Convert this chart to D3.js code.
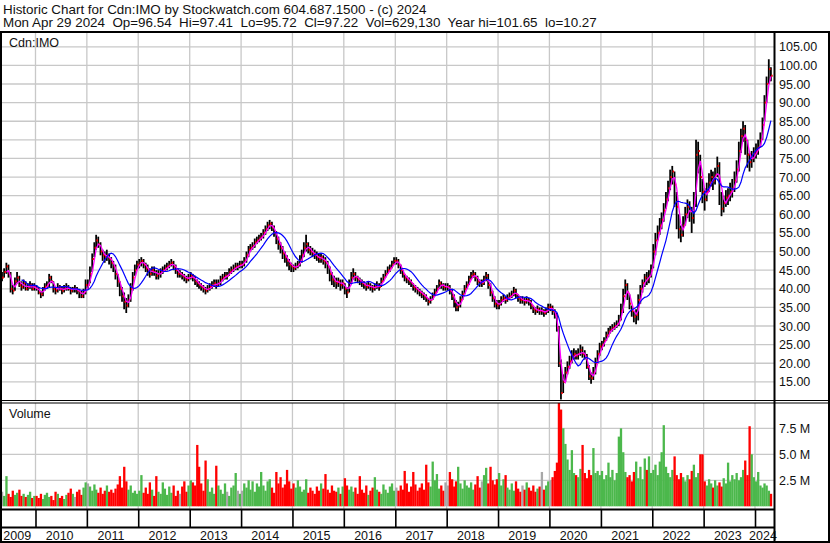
<!DOCTYPE html>
<html>
<head>
<meta charset="utf-8">
<script src="https://cdn.jsdelivr.net/npm/d3@7"></script>
<style>
body { margin: 0; background: #fff; }
svg text { font-family: Arial, "Liberation Sans", sans-serif; fill: #111; }
</style>
</head>
<body>
<script>
// half-month bars, May 2009 .. Apr 2024
var closes = [
  43, 44.5, 46, 44, 40, 39.5, 42, 43, 41, 40.5, 41.5, 40, 40.5, 41, 40, 40.5,                               // 2009 May-Dec
  40, 39, 38.5, 40, 40.5, 41, 43, 42, 40, 39.5, 40.5, 40, 39.5, 40, 40.5, 40, 39.5, 40, 40, 39.5, 39, 38, 39, 41, // 2010
  41, 44, 48, 51, 53, 52, 50, 49, 48.5, 49, 48, 47, 46, 44, 42, 40, 38, 36.5, 35.5, 37, 40, 43, 45, 46.5,     // 2011
  47, 47.5, 46.5, 45.5, 45, 44, 45, 44.5, 43.5, 44, 44.5, 45, 45.5, 46, 46.5, 47, 46, 45, 44, 44, 43.5, 43, 42.5, 43, // 2012
  43.5, 43, 42, 41.5, 41, 40.5, 40, 39.5, 40, 40.5, 41, 41.5, 41, 41.5, 42.5, 43, 43.5, 43.5, 44.5, 45, 45.5, 46, 46, 46.5, // 2013
  46.5, 47.5, 49, 50.5, 51, 51.5, 52.5, 53, 53.5, 54, 55, 56, 57, 57.5, 56.5, 55, 53.5, 52, 51, 49.5, 48.5, 47.5, 46.5, 46, // 2014
  45.5, 46, 46.5, 47.5, 49, 51, 52, 50.5, 50, 49.5, 49, 48.5, 48, 48.5, 47.5, 47, 46, 44, 42.5, 42, 41.5, 42, 41, 41.5, // 2015
  40, 39, 41.5, 43, 44, 43, 42.5, 42, 41.5, 41, 40.5, 41, 40.5, 40, 40.5, 41, 40.5, 42, 43, 44, 45, 45.5, 46.5, 47.5, // 2016
  47.5, 46.5, 45, 44, 43, 42.5, 42, 41.5, 40.5, 40, 39.5, 39, 38.5, 38, 37.5, 36.5, 37, 38, 39, 40, 41.5, 41, 40.5, 40.5, // 2017
  40.5, 39.5, 38, 36.5, 35, 35.5, 37, 38.5, 40, 41, 42.5, 43.5, 44, 43, 42, 41.5, 41.5, 42.5, 43.5, 41, 39, 37.5, 36, 35.5, // 2018
  36, 37, 37.5, 37, 37.5, 38, 38.5, 39.5, 38.5, 37.5, 37, 37, 36.5, 37, 36.5, 35.5, 34.5, 34, 34.5, 34, 34, 33.5, 34, 35, // 2019
  35, 34, 33, 29.5, 20, 12, 15, 17.5, 19, 20.5, 22, 22.5, 22, 22.5, 23.5, 22.5, 22, 19, 16.5, 16, 17.5, 20, 22.5, 24.5, // 2020
  25, 26, 27.5, 28.5, 29, 29.5, 30, 30.5, 31.5, 34, 38, 41, 39, 36, 34, 32.5, 33, 37, 40, 41.5, 43, 42.5, 43.5, 45,     // 2021
  50, 53, 55, 57, 58.5, 61, 64, 67, 70, 71.5, 68, 62, 56, 54.5, 57, 60, 62, 61, 59, 63, 76, 77, 70, 66,                 // 2022
  64, 66, 68.5, 70, 69, 70.5, 73, 68, 61.5, 63, 64.5, 65, 66, 67, 69, 72, 77, 81, 83, 80, 76, 74, 75, 76.5,             // 2023
  77, 78, 80, 84, 90, 95, 99, 97.22                                                                                     // 2024 Jan-Apr
];

var highs = [
  44.5, 45.5, 47, 46.5, 44.5, 41, 43, 44.5, 43.5, 42, 42.5, 42, 41.5, 42, 41.5, 41.5,
  41, 40.5, 39.5, 40.5, 41.5, 42, 44, 43.5, 42, 40.5, 41.5, 41, 40.5, 41, 41.5, 41, 40.5, 40.5, 41, 40.5, 40, 39.5, 40, 42.5,
  42.5, 46, 49.5, 52.5, 54.5, 54, 52.5, 50.5, 50, 50.5, 49.5, 48.5, 47.5, 46.5, 44, 42, 40.5, 39, 37.5, 38.5, 41.5, 44.5, 46.5, 47.5,
  48, 48.5, 48, 47, 46.5, 45.5, 46, 46, 45, 45, 45.5, 46, 46.5, 47, 47.5, 48, 47.5, 46.5, 45.5, 45, 44.5, 44, 43.5, 44,
  44.5, 44, 43.5, 42.5, 42, 41.5, 41, 40.5, 41, 41.5, 42, 42.5, 42.5, 42.5, 43.5, 44, 44.5, 44.5, 45.5, 46, 46.5, 47, 47, 47.5,
  47.5, 48.5, 50, 51.5, 52, 52.5, 53.5, 54, 54.5, 55, 56, 57, 58, 58.5, 58, 57, 55.5, 54, 52.5, 51.5, 50, 49, 48, 47,
  46.5, 47, 47.5, 49, 50.5, 52.5, 54.5, 52.5, 51.5, 51, 50.5, 50, 49.5, 49.5, 49, 48.5, 47.5, 46, 44.5, 43.5, 43, 43, 42.5, 42.5,
  41.5, 40.5, 42.5, 44.5, 45.5, 44.5, 43.5, 43, 42.5, 42, 41.5, 42, 41.5, 41, 41.5, 42, 41.5, 43, 44, 45, 46, 46.5, 47.5, 48.5,
  48.5, 48, 46.5, 45, 44, 43.5, 43, 42.5, 41.5, 41, 40.5, 40, 39.5, 39, 38.5, 37.5, 38, 39, 40, 41, 42.5, 42, 41.5, 41.5,
  41.5, 41, 40, 38.5, 37, 36.5, 38, 39.5, 41, 42, 43.5, 44.5, 45, 44.5, 43.5, 42.5, 42.5, 43.5, 44.5, 44, 41.5, 39.5, 38, 37,
  37, 38, 38.5, 38, 38.5, 39, 39.5, 40.5, 40, 38.5, 38, 38, 37.5, 38, 37.5, 37, 35.5, 35, 35.5, 35, 35, 34.5, 35, 36,
  36, 35.5, 34.5, 33.5, 30, 21, 17, 19, 20.5, 22, 23.5, 24, 23.5, 24, 25, 24.5, 23.5, 22.5, 19.5, 17.5, 19, 21.5, 23.5, 25.5,
  26, 27, 28.5, 29.5, 30, 30.5, 31, 31.5, 33, 36, 40, 42.5, 41.5, 38.5, 35.5, 34, 34.5, 38.5, 41, 42.5, 44, 44.5, 45, 46.5,
  52, 55, 57, 59, 60.5, 63, 66, 69, 72, 73, 71.5, 66, 60, 57, 59.5, 62, 64, 63.5, 62, 66, 80, 79.5, 76, 69.5,
  67, 68.5, 71, 72, 71.5, 72.5, 75.5, 74, 66, 65, 66.5, 67, 68.5, 69.5, 71.5, 74.5, 79.5, 83, 85, 84, 80, 76.5, 77, 78,
  79, 80, 82, 86, 92, 97, 101.65, 99.5
];

var lows = [
  42, 43, 44, 43, 39, 38.5, 39.5, 41.5, 40.5, 39.5, 40, 39.5, 39.5, 40, 39.5, 39.5,
  39.5, 38.5, 37.5, 38, 39.5, 40, 40.5, 41.5, 39, 38.5, 39, 39.5, 38.5, 39, 39.5, 39.5, 38.5, 39, 39, 38.5, 37.5, 37.5, 37.5, 38.5,
  40, 41.5, 44.5, 48.5, 50.5, 51, 49, 47.5, 47, 47.5, 46.5, 45.5, 44.5, 42.5, 40.5, 38, 36.5, 34.5, 33.5, 35, 36.5, 39.5, 43.5, 45,
  45.5, 46, 45.5, 44.5, 43.5, 43, 43.5, 43.5, 42.5, 42.5, 43, 44, 44.5, 45, 45.5, 46, 45, 44, 43, 43, 42.5, 42, 41.5, 42,
  42.5, 42, 41, 40.5, 40, 39.5, 39, 38.5, 39, 39.5, 40, 40.5, 40, 40.5, 41, 42, 42.5, 42.5, 43.5, 44, 44.5, 45, 45, 45.5,
  45.5, 46, 47, 48.5, 50, 50.5, 51, 52, 52.5, 53, 53.5, 54.5, 55.5, 56, 55.5, 54, 52, 50.5, 49.5, 48, 47, 46, 45, 44.5,
  44.5, 45, 45.5, 46, 47, 48.5, 50, 49.5, 49, 48.5, 48, 47.5, 47, 47, 46.5, 45.5, 44, 42, 41, 40.5, 40, 40.5, 39.5, 40,
  38.5, 37.5, 39, 41.5, 42.5, 42, 41.5, 41, 40.5, 40, 39.5, 40, 39.5, 39, 39.5, 40, 39.5, 40.5, 42, 43, 44, 44.5, 45.5, 46.5,
  46.5, 45.5, 44, 43, 42, 41.5, 41, 40.5, 39.5, 39, 38.5, 38, 37.5, 37, 36.5, 35.5, 36, 37, 38, 39, 40, 40, 39.5, 39.5,
  39.5, 38.5, 37, 35, 34, 34, 35, 37, 38.5, 40, 41, 42.5, 43, 42, 41, 40.5, 40.5, 41, 42, 40, 38, 36.5, 35, 34.5,
  34.5, 35.5, 36.5, 36, 36.5, 37, 37.5, 38, 37.5, 36.5, 36, 36, 35.5, 36, 35.5, 34.5, 33.5, 33, 33.5, 33, 33, 32.5, 33, 33.5,
  34, 33, 32, 28.5, 19, 10.27, 12, 15, 17, 18.5, 20, 21, 21, 21, 22, 21.5, 21, 18.5, 15.5, 14.5, 15.5, 17, 20, 22,
  23.5, 24.5, 26, 27, 28, 28.5, 29, 29.5, 30, 31.5, 33.5, 38.5, 37, 34.5, 32.5, 31, 30.5, 31.5, 36, 39, 40.5, 41, 41.5, 43,
  45.5, 49, 53, 54.5, 56, 58, 61.5, 63.5, 66.5, 68, 62, 56, 53.5, 52.5, 54, 57, 59, 58, 55, 57.5, 62, 71, 66, 63,
  61, 63.5, 66, 67.5, 66.5, 68, 70, 62.5, 59.5, 60.5, 62, 62.5, 63.5, 64.5, 66, 68.5, 71.5, 76.5, 79.5, 76, 72.5, 71.5, 72.5, 74,
  75, 76, 78, 80, 85, 90, 95, 95.72
];

// volume, millions
var volumes = [
  1.4, 1.0, 2.9, 1.2, 0.9, 1.5, 1.1, 1.3, 1.6, 1.0, 1.2, 0.9, 1.1, 1.4, 0.8, 1.0,
  1.0, 0.8, 1.2, 0.7, 1.1, 1.3, 0.9, 1.0, 0.6, 1.4, 1.2, 0.8, 1.0, 0.7, 1.1, 1.3, 1.7, 1.2, 0.9, 1.4, 1.6, 1.1, 1.8, 2.3,
  2.2, 1.9, 1.5, 2.1, 1.6, 1.3, 1.8, 1.2, 1.5, 2.0, 1.4, 1.6, 1.3, 1.7, 2.1, 2.9, 1.8, 3.8, 2.4, 1.6, 2.0, 1.3, 1.5, 1.2,
  1.5, 3.0, 1.3, 1.8, 1.2, 2.3, 1.6, 1.0, 2.9, 1.4, 1.2, 2.3, 1.7, 1.1, 1.9, 1.3, 2.0, 1.0, 1.5, 1.2, 1.9, 2.4, 1.4, 2.0,
  2.5, 2.3, 2.0, 5.9, 3.8, 2.2, 1.5, 4.4, 2.6, 1.4, 1.8, 1.2, 3.9, 2.0, 1.6, 1.2, 2.2, 1.4, 1.0, 1.8, 2.0, 3.2, 1.5, 1.2,
  1.5, 2.2, 1.8, 2.5, 1.6, 2.4, 1.4, 2.2, 1.9, 3.3, 2.0, 1.5, 2.4, 2.6, 1.8, 1.3, 3.3, 2.2, 2.8, 1.8, 2.1, 3.5, 2.4, 1.7,
  2.2, 1.8, 2.5, 1.9, 1.4, 1.6, 2.6, 1.3, 1.8, 1.5, 1.2, 1.9, 1.5, 2.2, 1.7, 3.1, 1.6, 1.3, 2.0, 1.5, 1.4, 1.8, 1.2, 1.9,
  2.7, 2.0, 1.6, 1.9, 1.4, 1.8, 1.2, 2.9, 1.6, 1.3, 2.0, 1.1, 1.5, 1.8, 2.8, 1.6, 1.4, 1.2, 2.1, 1.6, 1.3, 1.9, 2.2, 1.5,
  1.8, 1.5, 2.0, 1.6, 3.4, 2.2, 1.4, 1.9, 3.3, 2.1, 1.5, 1.8, 2.2, 1.6, 4.0, 2.3, 1.9, 4.3, 2.5, 3.1, 1.7, 2.0, 1.5, 2.3,
  2.0, 3.3, 2.6, 1.9, 2.4, 3.8, 2.2, 1.7, 2.5, 2.0, 1.8, 2.3, 1.6, 2.1, 2.9, 1.8, 2.4, 3.0, 3.7, 2.2, 3.8, 2.5, 2.1, 2.6,
  3.2, 2.0, 2.6, 3.0, 1.8, 1.6, 2.2, 1.5, 2.4, 1.7, 1.4, 2.0, 1.6, 2.3, 1.8, 1.5, 2.0, 1.4, 1.7, 1.9, 3.3, 1.6, 2.0, 2.4,
  2.5, 2.8, 3.4, 4.2, 10.4, 9.3, 7.5, 6.0, 4.5, 3.5, 5.4, 3.2, 3.0, 2.8, 3.6, 5.9, 3.2, 2.7, 3.5, 3.0, 5.6, 3.2, 3.4, 3.0,
  3.4, 2.6, 3.0, 4.2, 2.8, 3.5, 2.5, 3.2, 6.7, 7.5, 5.2, 3.3, 2.8, 3.0, 2.4, 3.3, 4.3, 2.7, 3.8, 2.6, 4.6, 3.5, 4.8, 3.2,
  3.5, 4.0, 3.0, 4.3, 5.2, 7.8, 3.8, 3.2, 2.8, 3.5, 4.8, 3.0, 2.6, 3.2, 2.8, 2.4, 3.0, 2.6, 3.4, 4.0, 2.8, 3.2, 5.0, 5.0,
  2.4, 2.0, 2.6, 2.2, 1.8, 2.5, 2.0, 2.3, 1.9, 2.7, 2.2, 4.2, 2.4, 3.0, 2.6, 3.2, 2.5, 2.8, 3.5, 4.4, 3.0, 7.7, 5.0, 2.8,
  2.4, 3.3, 2.0, 1.8, 2.2, 2.0, 1.5, 1.2
];

var priceTicks = [15, 20, 25, 30, 35, 40, 45, 50, 55, 60, 65, 70, 75, 80, 85, 90, 95, 100, 105];
var volumeTicks = [2.5, 5, 7.5];
var yearLabels = ["2009", "2010", "2011", "2012", "2013", "2014", "2015", "2016",
                  "2017", "2018", "2019", "2020", "2021", "2022", "2023", "2024"];
var headerLine1 = "Historic Chart for Cdn:IMO by Stockwatch.com 604.687.1500 - (c) 2024";
var headerLine2 = "Mon Apr 29 2024  Op=96.54  Hi=97.41  Lo=95.72  Cl=97.22  Vol=629,130  Year hi=101.65  lo=10.27";

// layout
var svgWidth = 830, svgHeight = 543;
var plotLeft = 2, plotRight = 774;
var priceTop = 33, priceBottom = 400;
var volTop = 403, volBottom = 509;

var gridColor = "#c8c8c8";

// two bars a month, centred on the 8th and 23rd
var months = d3.timeMonth.range(new Date(2009, 4, 1), new Date(2024, 4, 1));
var dates = [];
months.forEach(function(m) {
    dates.push(new Date(m.getFullYear(), m.getMonth(), 8));
    dates.push(new Date(m.getFullYear(), m.getMonth(), 23));
});
var bars = dates.map(function(d, i) {
    return { date: d, close: closes[i], high: highs[i], low: lows[i], vol: volumes[i],
             prev: i > 0 ? closes[i - 1] : closes[i] };
});

function movingAvg(n) {
    var out = [];
    for (var i = n - 1; i < closes.length; i++) {
        out.push({ date: dates[i], value: d3.mean(closes.slice(i - n + 1, i + 1)) });
    }
    return out;
}
var maShort = movingAvg(3);
var maLong = movingAvg(10);

var xScale = d3.scaleTime()
    .domain([new Date(2009, 4, 8), new Date(2024, 4, 15)])
    .range([plotLeft, plotRight]);
var yScale = d3.scaleLinear().domain([10.13, 108.7]).range([priceBottom, priceTop]);
var vScale = d3.scaleLinear().domain([0, 10]).range([506.3, 402.3]);

var yearStarts = d3.range(2010, 2025).map(function(y) { return new Date(y, 0, 1); });

var svg = d3.select("body").append("svg")
    .attr("width", svgWidth)
    .attr("height", svgHeight);

svg.append("rect").attr("width", svgWidth).attr("height", svgHeight).attr("fill", "#fff");

// header
svg.append("text").attr("x", 3).attr("y", 13.5).attr("font-size", "13.4px")
    .style("white-space", "pre").text(headerLine1);
svg.append("text").attr("x", 3).attr("y", 27).attr("font-size", "13.4px")
    .style("white-space", "pre").text(headerLine2);

// clip for the panels
svg.append("clipPath").attr("id", "priceClip").append("rect")
    .attr("x", plotLeft).attr("y", priceTop).attr("width", plotRight - plotLeft).attr("height", priceBottom - priceTop);
svg.append("clipPath").attr("id", "volClip").append("rect")
    .attr("x", plotLeft).attr("y", volTop).attr("width", plotRight - plotLeft).attr("height", volBottom - volTop);

// grid - price
var grid = svg.append("g").attr("stroke", gridColor).attr("stroke-width", 1.3);
grid.selectAll(".hp").data(priceTicks).enter().append("line")
    .attr("x1", plotLeft).attr("x2", plotRight)
    .attr("y1", d => yScale(d)).attr("y2", d => yScale(d));
grid.selectAll(".vp").data(yearStarts).enter().append("line")
    .attr("x1", d => xScale(d)).attr("x2", d => xScale(d))
    .attr("y1", priceTop).attr("y2", priceBottom);
// grid - volume
grid.selectAll(".hv").data(volumeTicks).enter().append("line")
    .attr("x1", plotLeft).attr("x2", plotRight)
    .attr("y1", d => vScale(d)).attr("y2", d => vScale(d));
grid.selectAll(".vv").data(yearStarts).enter().append("line")
    .attr("x1", d => xScale(d)).attr("x2", d => xScale(d))
    .attr("y1", volTop).attr("y2", volBottom);

// volume bars
var slot = xScale(dates[1]) - xScale(dates[0]);
svg.append("g").attr("clip-path", "url(#volClip)")
    .selectAll("rect").data(bars).enter().append("rect")
    .attr("x", d => xScale(d.date) - slot / 2)
    .attr("width", slot + 0.2)
    .attr("y", d => vScale(d.vol))
    .attr("height", d => vScale(0) - vScale(d.vol))
    .attr("fill", d => d.close > d.prev ? "#4cb84c" : (d.close < d.prev ? "#ff0000" : "#a8a8a8"));

// price bars
var priceG = svg.append("g").attr("clip-path", "url(#priceClip)");
priceG.selectAll(".bar").data(bars).enter().append("line")
    .attr("x1", d => xScale(d.date)).attr("x2", d => xScale(d.date))
    .attr("y1", d => yScale(d.high)).attr("y2", d => yScale(d.low))
    .attr("stroke", "#000").attr("stroke-width", 1.8);
priceG.selectAll(".tick").data(bars).enter().append("rect")
    .attr("x", d => xScale(d.date) + 0.3)
    .attr("y", d => yScale(d.close) - 1)
    .attr("width", 1.5).attr("height", 2)
    .attr("fill", "#ff0000");

var line = d3.line().x(d => xScale(d.date)).y(d => yScale(d.value));
priceG.append("path").datum(maShort).attr("d", line)
    .attr("fill", "none").attr("stroke", "#ff00ff").attr("stroke-width", 1.3);
priceG.append("path").datum(maLong).attr("d", line)
    .attr("fill", "none").attr("stroke", "#0000ff").attr("stroke-width", 1.2);

// right axes
var priceAxis = svg.append("g")
    .attr("transform", `translate(${plotRight}, 0)`)
    .call(d3.axisRight(yScale).tickValues(priceTicks).tickFormat(d3.format(".2f")).tickSize(0).tickPadding(5));
var volAxis = svg.append("g")
    .attr("transform", `translate(${plotRight}, 0)`)
    .call(d3.axisRight(vScale).tickValues(volumeTicks).tickFormat(d => d.toFixed(1) + " M").tickSize(0).tickPadding(5));
[priceAxis, volAxis].forEach(function(ax) {
    ax.select(".domain").remove();
    ax.selectAll("text").attr("font-size", "12.5px").attr("font-family", null).attr("fill", null);
});

// x axis: year boundary ticks and year labels
svg.append("g")
    .attr("transform", `translate(0, 510)`)
    .call(d3.axisBottom(xScale).tickValues(yearStarts).tickFormat("").tickSize(17))
    .call(g => g.select(".domain").remove())
    .selectAll("line").attr("stroke", "#000").attr("stroke-width", 1.6);

var yearMids = yearLabels.map(function(y) {
    var a = Math.max(plotLeft, xScale(new Date(+y, 0, 1)));
    var b = Math.min(plotRight, xScale(new Date(+y + 1, 0, 1)));
    return { label: y, x: (a + b) / 2 - 1.5 };
});
svg.selectAll(".yr").data(yearMids).enter().append("text")
    .attr("x", d => d.x).attr("y", 539.5)
    .attr("text-anchor", "middle").attr("font-size", "12.5px")
    .text(d => d.label);

// panel labels
svg.append("text").attr("x", 9).attr("y", 47).attr("font-size", "12.5px").text("Cdn:IMO");
svg.append("text").attr("x", 9).attr("y", 418).attr("font-size", "12.5px").text("Volume");

// frame lines
var frame = svg.append("g").attr("fill", "#000");
frame.append("rect").attr("x", 0).attr("y", 31).attr("width", svgWidth).attr("height", 2);
frame.append("rect").attr("x", 0).attr("y", 31).attr("width", 2).attr("height", svgHeight - 31);
frame.append("rect").attr("x", svgWidth - 2).attr("y", 31).attr("width", 2).attr("height", svgHeight - 31);
frame.append("rect").attr("x", 0).attr("y", svgHeight - 2).attr("width", svgWidth).attr("height", 2);
frame.append("rect").attr("x", plotRight - 0.5).attr("y", 31).attr("width", 2).attr("height", svgHeight - 31);
frame.append("rect").attr("x", 0).attr("y", 400).attr("width", svgWidth).attr("height", 1);
frame.append("rect").attr("x", 0).attr("y", 402.5).attr("width", svgWidth).attr("height", 1);
frame.append("rect").attr("x", 0).attr("y", 508.5).attr("width", plotRight).attr("height", 2);
frame.append("rect").attr("x", 0).attr("y", 526.5).attr("width", plotRight).attr("height", 2);
</script>
</body>
</html>
